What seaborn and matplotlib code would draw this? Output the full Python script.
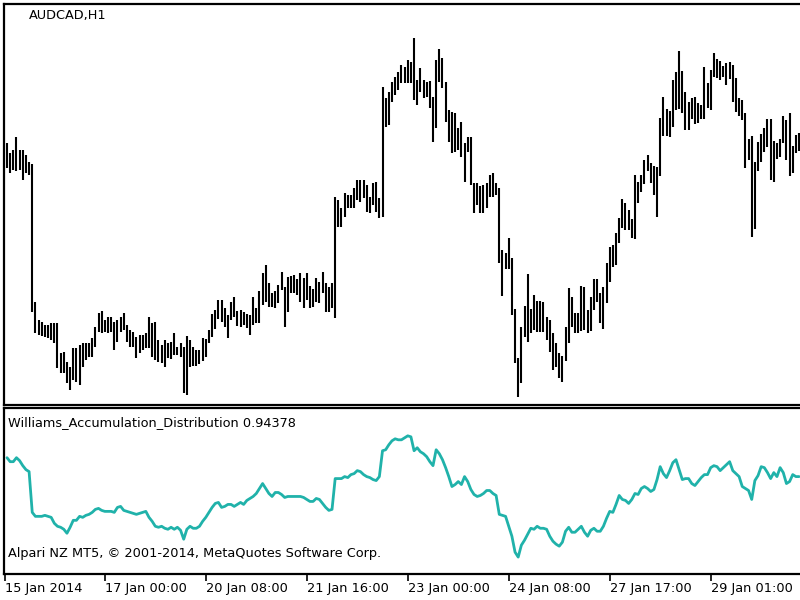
import numpy as np
import pandas as pd
import matplotlib
matplotlib.use("Agg")
import matplotlib.pyplot as plt
import seaborn as sns

# AUDCAD H1 bars, price in points
high = [257, 247, 250, 263, 250, 250, 245, 238, 236, 98,
        80, 78, 75, 75, 77, 77, 77, 47, 48, 38,
        33, 52, 52, 55, 57, 57, 57, 62, 73, 87,
        89, 80, 83, 83, 78, 80, 83, 87, 75, 70,
        68, 63, 65, 65, 67, 83, 77, 78, 60, 55,
        60, 57, 58, 67, 53, 57, 53, 64, 60, 53,
        50, 50, 62, 61, 70, 86, 90, 100, 100, 92,
        85, 98, 103, 89, 90, 88, 86, 85, 103, 92,
        109, 127, 135, 117, 107, 109, 115, 128, 113, 123,
        124, 125, 121, 127, 122, 127, 114, 111, 122, 118,
        128, 117, 113, 117, 203, 200, 192, 207, 205, 205,
        212, 220, 220, 220, 215, 203, 217, 218, 202, 313,
        302, 308, 318, 323, 328, 335, 333, 340, 338, 362,
        320, 332, 320, 318, 319, 303, 340, 351, 342, 318,
        290, 288, 287, 272, 278, 257, 263, 263, 217, 217,
        214, 215, 217, 225, 227, 217, 212, 150, 147, 162,
        142, 91, 42, 73, 94, 126, 91, 105, 99, 99,
        98, 83, 80, 67, 57, 47, 44, 73, 112, 103,
        87, 87, 114, 113, 90, 103, 121, 121, 107, 113,
        137, 153, 155, 167, 182, 201, 197, 190, 181, 225,
        218, 225, 240, 245, 237, 234, 233, 282, 303, 291,
        289, 320, 328, 349, 329, 308, 298, 302, 303, 297,
        295, 333, 317, 330, 347, 341, 339, 334, 337, 338,
        335, 322, 302, 300, 287, 261, 264, 238, 258, 266,
        272, 281, 281, 259, 257, 261, 284, 280, 287, 254,
        265, 267]
low = [232, 227, 230, 229, 230, 220, 227, 225, 88, 67,
       65, 64, 63, 62, 60, 57, 32, 27, 27, 17,
       10, 20, 18, 15, 33, 40, 43, 43, 53, 68,
       67, 68, 67, 68, 50, 58, 68, 70, 58, 53,
       53, 42, 47, 50, 52, 52, 43, 40, 38, 37,
       33, 42, 41, 45, 45, 43, 7, 5, 33, 34,
       34, 36, 39, 43, 57, 63, 71, 81, 78, 73,
       62, 80, 83, 74, 73, 75, 72, 65, 75, 77,
       77, 95, 98, 93, 93, 92, 97, 110, 73, 88,
       107, 107, 105, 98, 92, 100, 92, 93, 98, 97,
       107, 88, 88, 92, 82, 173, 173, 183, 192, 192,
       192, 200, 198, 202, 188, 187, 195, 188, 182, 183,
       273, 275, 298, 305, 310, 317, 317, 317, 317, 300,
       295, 308, 302, 303, 292, 258, 272, 318, 312, 278,
       258, 247, 248, 250, 243, 218, 248, 215, 187, 195,
       187, 187, 192, 203, 203, 205, 137, 104, 131, 131,
       85, 37, 3, 17, 63, 58, 67, 70, 68, 68,
       68, 60, 48, 30, 33, 22, 18, 39, 57, 73,
       67, 67, 69, 70, 67, 69, 90, 98, 77, 71,
       97, 118, 133, 135, 157, 172, 170, 170, 162, 161,
       197, 208, 216, 229, 217, 205, 183, 224, 264, 264,
       263, 273, 290, 291, 287, 270, 270, 281, 276, 277,
       281, 281, 292, 290, 323, 322, 320, 323, 315, 321,
       298, 288, 284, 280, 232, 240, 163, 171, 229, 238,
       248, 253, 220, 218, 241, 243, 257, 240, 224, 227,
       247, 249]

# Williams Accumulation/Distribution (points)
wad = [102, 98, 98, 102, 99, 94, 90, 88, 47, 43,
       43, 43, 44, 43, 42, 36, 33, 32, 30, 26,
       32, 39, 39, 43, 42, 44, 45, 47, 50, 51,
       49, 48, 48, 48, 47, 52, 53, 49, 48, 47,
       46, 45, 46, 47, 48, 42, 38, 33, 32, 33,
       31, 30, 32, 30, 32, 29, 20, 30, 33, 31,
       31, 33, 38, 42, 47, 52, 56, 57, 52, 53,
       55, 55, 53, 55, 57, 55, 59, 61, 63, 66,
       71, 76, 71, 66, 63, 67, 67, 65, 62, 63,
       63, 63, 63, 63, 62, 60, 58, 58, 61, 60,
       56, 52, 49, 50, 81, 81, 81, 83, 82, 85,
       86, 89, 88, 85, 83, 82, 80, 79, 83, 109,
       110, 115, 119, 121, 120, 120, 122, 124, 123, 109,
       112, 108, 106, 103, 98, 94, 110, 106, 100, 92,
       83, 73, 75, 78, 75, 83, 78, 70, 65, 63,
       64, 66, 69, 69, 66, 64, 45, 44, 43, 33,
       23, 7, 2, 14, 19, 25, 31, 30, 33, 31,
       31, 30, 23, 18, 15, 13, 17, 28, 32, 27,
       27, 30, 33, 27, 23, 29, 31, 28, 28, 33,
       41, 48, 47, 55, 64, 60, 59, 56, 60, 66,
       65, 71, 73, 71, 68, 70, 80, 93, 86, 82,
       89, 97, 100, 90, 80, 81, 81, 76, 74, 78,
       82, 85, 85, 92, 94, 93, 89, 92, 95, 98,
       89, 86, 83, 73, 71, 69, 60, 79, 84, 93,
       92, 87, 81, 87, 83, 92, 87, 76, 78, 85,
       83, 83]
wad_last = "0.94378"

tick_labels = ["15 Jan 2014", "17 Jan 00:00", "20 Jan 08:00", "21 Jan 16:00",
               "23 Jan 00:00", "24 Jan 08:00", "27 Jan 17:00", "29 Jan 01:00"]
tick_bars = [-0.6, 31, 63, 95, 127, 159, 191, 223]

df = pd.DataFrame({"bar": np.arange(len(high)), "high": high, "low": low, "wad": wad})

sns.set_style("white")
plt.rcParams["font.family"] = ["DejaVu Sans"]
plt.rcParams["text.color"] = "black"
plt.rcParams["xtick.color"] = "black"
fs = 9.3

fig = plt.figure(figsize=(8, 6), dpi=100)
ax = fig.add_axes([4 / 800, 1 - 405 / 600, 796 / 800, 401 / 600])
ax2 = fig.add_axes([4 / 800, 1 - 574 / 600, 796 / 800, 166 / 600])

xlim = (-0.95, 251.3)

# price bars
ax.vlines(df["bar"], df["low"], df["high"], color="black", lw=1.5)
ax.set_xlim(*xlim)
ax.set_ylim(-5, 396)
ax.set_xticks([])
ax.set_yticks([])
ax.spines["right"].set_visible(False)
for s in ["left", "top", "bottom"]:
    ax.spines[s].set_linewidth(1.6)
    ax.spines[s].set_color("black")
ax.text(25 / 796, 1 - 12 / 401, "AUDCAD,H1", transform=ax.transAxes,
        fontsize=fs, va="center", ha="left", color="black")

# indicator
sns.lineplot(data=df, x="bar", y="wad", ax=ax2, color="#20B2AA", lw=2.0)
ax2.set_xlim(*xlim)
ax2.set_ylim(-15, 152)
ax2.set_xlabel("")
ax2.set_ylabel("")
ax2.set_yticks([])
ax2.spines["right"].set_visible(False)
for s in ["left", "top", "bottom"]:
    ax2.spines[s].set_linewidth(1.6)
    ax2.spines[s].set_color("black")
ax2.set_xticks(tick_bars)
ax2.set_xticklabels(tick_labels, fontsize=fs, ha="left", color="black")
ax2.tick_params(axis="x", direction="out", length=5, width=1.2, pad=1,
                bottom=True, color="black")
ax2.text(4 / 796, 1 - 15 / 166, "Williams_Accumulation_Distribution " + wad_last,
         transform=ax2.transAxes, fontsize=fs, va="center", ha="left", color="black")
ax2.text(4 / 796, 1 - 146 / 166, "Alpari NZ MT5, \u00a9 2001-2014, MetaQuotes Software Corp.",
         transform=ax2.transAxes, fontsize=fs, va="center", ha="left", color="black")

fig.savefig("out.png", dpi=100)
